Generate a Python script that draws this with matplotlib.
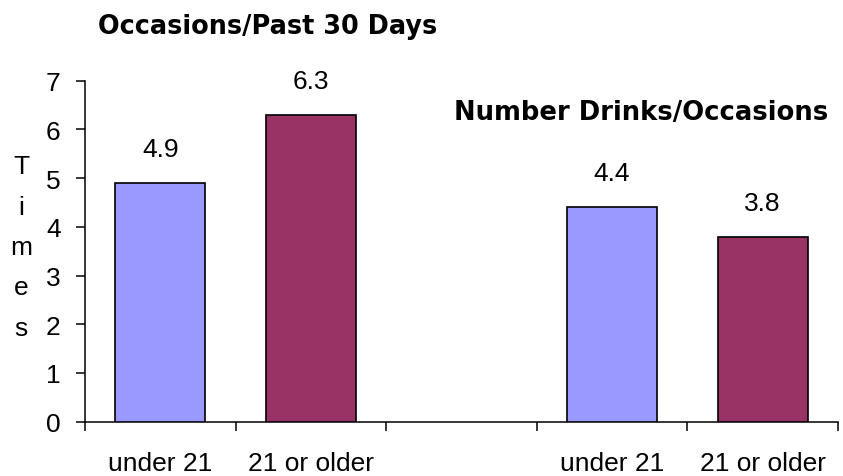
import numpy as np
import matplotlib.pyplot as plt

plt.rcParams['font.family'] = ['Liberation Sans', 'DejaVu Sans']

# chart data
categories = ['under 21', '21 or older', '', 'under 21', '21 or older']
occasions = [4.9, 6.3]
drinks_per_occasion = [4.4, 3.8]
panel_titles = ['Occasions/Past 30 Days', 'Number Drinks/Occasions']
y_label = 'Times'
y_ticks = [0, 1, 2, 3, 4, 5, 6, 7]

blue = '#9999ff'
maroon = '#993366'


def draw_bars(axis, positions, values):
	'''
	Draw one pair of bars (under 21 / 21 or older) with value labels on top.
	'''
	bars = axis.bar(positions, values, width=0.6, color=[blue, maroon],
	                edgecolor='black', linewidth=1.2, zorder=3)
	for bar, value in zip(bars, values):
		axis.annotate(f'{value:.1f}', (bar.get_x() + bar.get_width() / 2, value),
		              xytext=(0, 24.5), textcoords='offset points',
		              ha='center', va='center', fontsize=19)


figure = plt.figure(figsize=(8.43, 4.77), dpi=100)
axis = figure.add_axes([85 / 843, 1 - 422.7 / 477, (838 - 85) / 843, (422.7 - 81.7) / 477])

positions = np.arange(len(categories))
draw_bars(axis, positions[:2], occasions)
draw_bars(axis, positions[3:], drinks_per_occasion)

axis.set_xlim(-0.5, len(categories) - 0.5)
axis.set_ylim(0, 7)
axis.set_yticks(y_ticks)
axis.tick_params(axis='y', labelsize=19, length=6.5, width=1.1, pad=11, direction='out')

# ticks on category boundaries, labels centred under the bars
axis.set_xticks(np.arange(len(categories) + 1) - 0.5)
axis.set_xticklabels([])
axis.set_xticks(positions, minor=True)
axis.set_xticklabels(categories, minor=True)
axis.tick_params(axis='x', which='major', length=6.5, width=1.1, direction='out')
axis.tick_params(axis='x', which='minor', length=0, labelsize=19, pad=21)

for side in ['top', 'right']:
	axis.spines[side].set_visible(False)
for side in ['left', 'bottom']:
	axis.spines[side].set_linewidth(1.1)

figure.text(268 / 843, 1 - 27 / 477, panel_titles[0], ha='center', va='center',
            fontsize=18.4, fontweight='bold', family='DejaVu Sans')
figure.text(641 / 843, 1 - 113 / 477, panel_titles[1], ha='center', va='center',
            fontsize=18.6, fontweight='bold', family='DejaVu Sans')
figure.text(21 / 843, 1 - 248 / 477, '\n'.join(y_label), ha='center', va='center',
            fontsize=19, linespacing=1.86)

figure.savefig('out.png', dpi=100)
